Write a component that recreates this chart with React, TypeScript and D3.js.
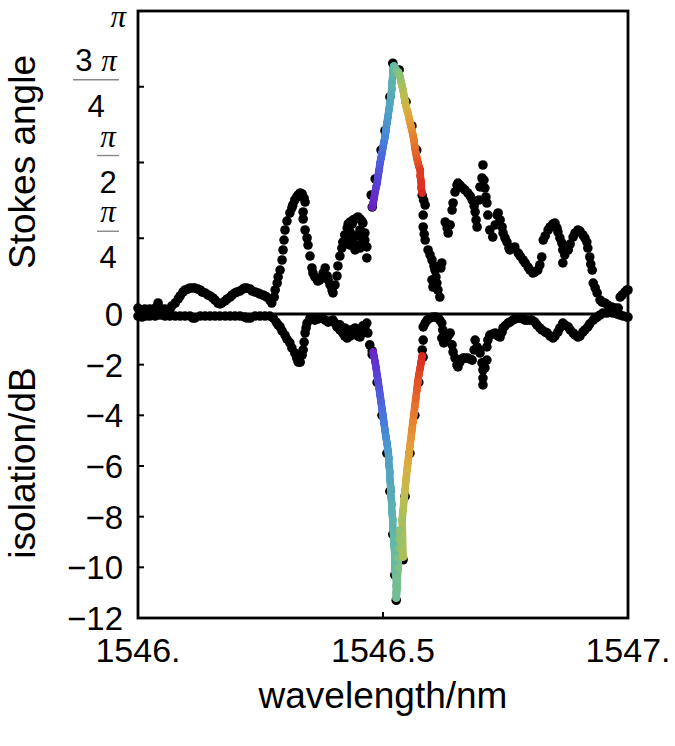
import React from 'react';
import * as d3 from 'd3';

// Stokes angle (rad) vs wavelength (nm): black points
const stokesBlack: [number, number][] = [
  [1546.000,.062],[1546.004,.041],[1546.014,.052],[1546.024,.052],[1546.035,.062],[1546.041,.114],[1546.045,.062],[1546.055,.052],[1546.065,.041],[1546.069,.083],[1546.076,.114],[1546.082,.156],[1546.086,.187],[1546.092,.228],[1546.096,.249],[1546.102,.259],[1546.106,.270],[1546.112,.270],[1546.116,.270],[1546.122,.259],[1546.127,.249],[1546.131,.228],[1546.137,.218],[1546.143,.197],[1546.147,.187],[1546.153,.166],[1546.157,.145],[1546.163,.114],[1546.167,.104],[1546.171,.114],[1546.178,.135],[1546.182,.156],[1546.188,.176],[1546.192,.197],[1546.198,.218],[1546.202,.228],[1546.208,.238],[1546.214,.259],[1546.218,.270],[1546.222,.270],[1546.229,.259],[1546.233,.238],[1546.239,.228],[1546.245,.218],[1546.249,.207],[1546.255,.197],[1546.259,.187],[1546.263,.176],[1546.269,.145],[1546.273,.114],[1546.278,.176],[1546.280,.249],[1546.284,.321],[1546.286,.384],[1546.290,.456],[1546.294,.560],[1546.296,.664],[1546.298,.767],[1546.300,.871],[1546.304,.964],[1546.310,1.047],[1546.314,1.099],[1546.316,1.130],[1546.320,1.182],[1546.324,1.213],[1546.327,1.234],[1546.331,1.255],[1546.335,1.244],[1546.339,1.202],[1546.341,1.161],[1546.337,1.058],[1546.337,.985],[1546.341,.871],[1546.345,.788],[1546.347,.715],[1546.351,.601],[1546.355,.477],[1546.357,.425],[1546.361,.384],[1546.365,.363],[1546.367,.342],[1546.371,.353],[1546.376,.384],[1546.378,.425],[1546.382,.477],[1546.386,.394],[1546.388,.353],[1546.392,.301],[1546.396,.249],[1546.398,.218],[1546.402,.301],[1546.406,.394],[1546.408,.498],[1546.412,.601],[1546.416,.684],[1546.418,.746],[1546.422,.819],[1546.427,.892],[1546.429,.933],[1546.433,.954],[1546.437,.933],[1546.439,.975],[1546.443,.985],[1546.447,.995],[1546.449,1.006],[1546.453,.985],[1546.457,.964],[1546.459,.943],[1546.463,.840],[1546.467,.695],[1546.467,.581],[1546.433,.850],[1546.437,.767],[1546.443,.809],[1546.447,.715],[1546.453,.871],[1546.457,.788],[1546.461,.736],[1546.429,.788],[1546.433,.715],[1546.443,.664],[1546.453,.684],[1546.463,.767],[1546.427,.736],[1546.478,1.109],
  [1546.476,1.234],[1546.484,1.400],[1546.496,1.700],[1546.504,1.900],[1546.514,2.250],[1546.520,2.600],[1546.533,2.530],[1546.547,2.200],[1546.559,1.950],[1546.569,1.700],[1546.580,1.230],[1546.583,1.180],
  [1546.586,1.130],[1546.582,1.026],[1546.582,.902],[1546.584,.829],[1546.586,.767],[1546.592,.664],[1546.596,.612],[1546.600,.560],[1546.604,.498],[1546.606,.456],[1546.608,.384],[1546.610,.321],[1546.612,.249],[1546.616,.176],[1546.620,.529],[1546.618,.477],[1546.602,.280],[1546.600,.353],[1546.627,.954],[1546.631,.892],[1546.633,.840],[1546.637,.923],[1546.641,1.078],[1546.643,1.151],[1546.647,1.265],[1546.651,1.337],[1546.653,1.358],[1546.657,1.337],[1546.663,1.306],[1546.667,1.286],[1546.673,1.255],[1546.678,1.223],[1546.682,1.182],[1546.686,1.120],[1546.688,1.058],[1546.690,.975],[1546.692,.902],[1546.696,1.182],[1546.698,1.317],[1546.702,1.410],[1546.704,1.545],[1546.706,1.389],[1546.708,1.306],[1546.710,1.213],[1546.712,1.151],[1546.714,1.026],[1546.718,.871],[1546.724,.798],[1546.729,.923],[1546.733,1.026],[1546.735,1.047],[1546.739,.975],[1546.743,.902],[1546.745,.840],[1546.749,.788],[1546.753,.746],[1546.757,.684],[1546.759,.664],[1546.765,.684],[1546.769,.695],[1546.776,.632],[1546.780,.601],[1546.786,.560],[1546.790,.529],[1546.796,.487],[1546.800,.456],[1546.806,.425],[1546.810,.435],[1546.816,.456],[1546.820,.508],[1546.824,.591],[1546.827,.767],[1546.831,.809],[1546.837,.871],[1546.841,.902],[1546.847,.933],[1546.851,.943],[1546.855,.892],[1546.857,.850],[1546.861,.788],[1546.865,.736],[1546.867,.529],[1546.867,.664],[1546.871,.612],[1546.878,.664],[1546.882,.725],[1546.888,.798],[1546.892,.840],[1546.898,.871],[1546.902,.860],[1546.908,.819],[1546.912,.788],[1546.916,.746],[1546.918,.684],[1546.922,.591],[1546.924,.518],[1546.927,.456],[1546.929,.321],[1546.933,.270],[1546.937,.218],[1546.943,.145],[1546.947,.124],[1546.953,.114],[1546.959,.093],[1546.967,.073],[1546.973,.062],[1546.980,.062],[1546.984,.176],[1546.988,.197],[1546.994,.228],[1546.998,.249],[1547.000,.249],
];

// Stokes angle, highlighted resonance points (colored by wavelength)
const stokesColor: [number, number][] = [
  [1546.478,1.109],[1546.480,1.151],[1546.482,1.203],[1546.484,1.265],[1546.486,1.317],[1546.488,1.358],[1546.490,1.431],[1546.492,1.493],[1546.494,1.566],[1546.496,1.617],[1546.498,1.669],[1546.500,1.731],[1546.502,1.783],[1546.504,1.835],[1546.506,1.908],[1546.508,1.980],[1546.510,2.043],[1546.512,2.115],[1546.514,2.188],[1546.516,2.260],[1546.518,2.333],[1546.518,2.395],[1546.520,2.468],[1546.520,2.530],[1546.522,2.571],[1546.524,2.551],[1546.527,2.530],[1546.529,2.499],[1546.531,2.509],[1546.533,2.488],[1546.535,2.457],[1546.537,2.405],[1546.539,2.364],[1546.541,2.322],[1546.543,2.260],[1546.545,2.208],[1546.547,2.157],[1546.549,2.115],[1546.551,2.084],[1546.553,2.032],[1546.555,1.991],[1546.557,1.949],[1546.559,1.908],[1546.561,1.856],[1546.563,1.804],[1546.565,1.721],[1546.567,1.669],[1546.569,1.617],[1546.571,1.576],[1546.573,1.534],[1546.576,1.493],[1546.576,1.431],[1546.578,1.369],[1546.578,1.306],[1546.580,1.255],
];

// Isolation (dB) vs wavelength (nm): black points
const isoBlack: [number, number][] = [
  [1546.000,-.08],[1546.008,-.12],[1546.016,-.08],[1546.024,-.08],[1546.035,-.08],[1546.045,-.04],[1546.055,-.08],[1546.065,-.08],[1546.076,-.08],[1546.086,-.08],[1546.096,-.08],[1546.106,-.08],[1546.112,-.16],[1546.116,-.16],[1546.127,-.08],[1546.137,-.08],[1546.147,-.08],[1546.157,-.08],[1546.167,-.08],[1546.178,-.08],[1546.188,-.08],[1546.198,-.08],[1546.208,-.08],[1546.218,-.12],[1546.222,-.16],[1546.229,-.16],[1546.239,-.08],[1546.249,-.08],[1546.259,-.08],[1546.269,-.08],[1546.276,-.16],[1546.282,-.32],[1546.286,-.43],[1546.290,-.51],[1546.294,-.67],[1546.300,-.83],[1546.304,-.99],[1546.310,-1.14],[1546.314,-1.34],[1546.320,-1.54],[1546.324,-1.74],[1546.327,-1.90],[1546.331,-1.90],[1546.335,-1.62],[1546.337,-1.42],[1546.339,-1.11],[1546.341,-.75],[1546.343,-.55],[1546.345,-.36],[1546.351,-.16],[1546.355,-.20],[1546.361,-.24],[1546.367,-.20],[1546.371,-.16],[1546.376,-.16],[1546.382,-.24],[1546.388,-.32],[1546.392,-.28],[1546.398,-.24],[1546.402,-.36],[1546.406,-.51],[1546.412,-.63],[1546.418,-.75],[1546.422,-.87],[1546.427,-.95],[1546.433,-.87],[1546.439,-.75],[1546.443,-.79],[1546.449,-.87],[1546.453,-.91],[1546.457,-.75],[1546.463,-.55],[1546.467,-.36],[1546.469,-.75],[1546.473,-1.22],[1546.478,-1.46],[1546.412,-.43],[1546.422,-.55],[1546.433,-.63],[1546.443,-.55],[1546.453,-.63],[1546.459,-.47],
  [1546.478,-1.60],[1546.488,-2.70],[1546.498,-4.00],[1546.508,-5.50],[1546.514,-7.00],[1546.520,-8.70],[1546.524,-10.30],[1546.527,-11.30],[1546.541,-9.70],[1546.545,-7.20],[1546.555,-5.50],[1546.565,-4.00],[1546.573,-2.70],[1546.582,-1.70],
  [1546.580,-1.42],[1546.582,-1.03],[1546.582,-.51],[1546.586,-.36],[1546.590,-.24],[1546.596,-.16],[1546.602,-.12],[1546.608,-.12],[1546.612,-.16],[1546.616,-.24],[1546.620,-.36],[1546.622,-.63],[1546.620,-.95],[1546.624,-1.14],[1546.629,-1.03],[1546.633,-.87],[1546.637,-.75],[1546.641,-1.22],[1546.643,-1.50],[1546.647,-1.74],[1546.651,-2.01],[1546.653,-2.09],[1546.657,-1.90],[1546.663,-1.74],[1546.667,-1.74],[1546.673,-1.74],[1546.678,-1.78],[1546.682,-1.82],[1546.686,-1.42],[1546.688,-1.03],[1546.692,-1.30],[1546.696,-1.42],[1546.698,-1.54],[1546.702,-1.93],[1546.704,-2.21],[1546.704,-2.53],[1546.704,-2.80],[1546.708,-2.13],[1546.712,-1.82],[1546.712,-1.30],[1546.714,-1.03],[1546.718,-.83],[1546.724,-.79],[1546.729,-.75],[1546.735,-.87],[1546.739,-.91],[1546.743,-.71],[1546.745,-.55],[1546.749,-.47],[1546.755,-.36],[1546.759,-.32],[1546.765,-.24],[1546.769,-.20],[1546.776,-.16],[1546.780,-.16],[1546.786,-.20],[1546.790,-.24],[1546.794,-.24],[1546.800,-.24],[1546.804,-.24],[1546.810,-.32],[1546.814,-.43],[1546.820,-.55],[1546.824,-.63],[1546.831,-.71],[1546.835,-.75],[1546.841,-.87],[1546.847,-.95],[1546.851,-.87],[1546.857,-.71],[1546.861,-.55],[1546.867,-.36],[1546.871,-.43],[1546.878,-.51],[1546.882,-.63],[1546.888,-.75],[1546.892,-.83],[1546.898,-.91],[1546.902,-.87],[1546.908,-.71],[1546.912,-.63],[1546.918,-.51],[1546.922,-.39],[1546.929,-.24],[1546.933,-.16],[1546.937,-.12],[1546.943,-.04],[1546.949,.04],[1546.957,.04],[1546.963,.08],[1546.969,.04],[1546.978,0],[1546.984,-.04],[1546.990,-.08],[1546.998,-.12],[1547.000,-.12],
];

// Isolation, highlighted resonance points (colored by wavelength)
const isoColor: [number, number][] = [
  [1546.480,-1.50],[1546.482,-1.70],[1546.484,-1.90],[1546.486,-2.13],[1546.488,-2.41],[1546.490,-2.65],[1546.492,-2.92],[1546.494,-3.20],[1546.496,-3.47],[1546.498,-3.75],[1546.500,-4.03],[1546.502,-4.30],[1546.504,-4.58],[1546.506,-4.86],[1546.508,-5.09],[1546.510,-5.37],[1546.512,-5.69],[1546.512,-5.96],[1546.514,-6.24],[1546.514,-6.55],[1546.516,-6.87],[1546.516,-7.19],[1546.518,-7.50],[1546.518,-7.82],[1546.520,-8.13],[1546.520,-8.45],[1546.522,-8.80],[1546.522,-9.12],[1546.524,-9.44],[1546.524,-9.79],[1546.524,-10.11],[1546.527,-10.42],[1546.527,-10.74],[1546.527,-11.01],[1546.527,-11.21],
  [1546.529,-10.82],[1546.529,-10.42],[1546.531,-10.03],[1546.531,-9.63],[1546.533,-9.24],[1546.533,-8.84],[1546.535,-8.53],[1546.537,-8.92],[1546.539,-9.32],[1546.541,-9.59],[1546.539,-8.13],[1546.541,-7.74],[1546.543,-7.34],[1546.545,-6.95],[1546.547,-6.55],[1546.549,-6.16],[1546.551,-5.84],[1546.553,-5.53],[1546.555,-5.21],[1546.557,-4.90],[1546.559,-4.58],[1546.561,-4.26],[1546.563,-3.95],[1546.565,-3.63],[1546.567,-3.32],[1546.569,-3.00],[1546.571,-2.68],[1546.573,-2.41],[1546.576,-2.13],[1546.578,-1.90],[1546.580,-1.66],
];

const xTicks = [1546, 1546.5, 1547];
const xTickLabels = ['1546.', '1546.5', '1547.'];
const isoTicks = [0, -2, -4, -6, -8, -10, -12];
const stokesFracs = [
  { v: Math.PI / 4, num: 'π', numPre: '', den: '4' },
  { v: Math.PI / 2, num: 'π', numPre: '', den: '2' },
  { v: (3 * Math.PI) / 4, num: 'π', numPre: '3 ', den: '4' },
];
const rainbowStops = ['#6a1fc0', '#5a3fd8', '#4470e0', '#4a98d0', '#5cb4b0', '#72c094', '#a8c258', '#dcb440', '#e88c30', '#e65a26', '#d82820'];
const colorDomain: [number, number] = [1546.478, 1546.580];

const FONT = "'Liberation Sans', Arial, Helvetica, sans-serif";
const SERIF = "'Liberation Serif', 'Times New Roman', serif";

export default function App() {
  const W = 675, H = 746;
  const L = 138, R = 628, T = 11, B = 618, Z = 314;
  const x = d3.scaleLinear().domain([1546, 1547]).range([L, R]);
  const yS = d3.scaleLinear().domain([0, Math.PI]).range([Z, T]);
  const yI = d3.scaleLinear().domain([-12, 0]).range([B, Z]);
  const color = d3.scaleSequential(d3.interpolateRgbBasis(rainbowStops)).domain(colorDomain);
  const fsTick = 33;
  const fsFrac = 31;
  const fsTitle = 37;
  const lblX = 123;
  const rBlack = 4.8;
  const rColor = 3.8;

  const segs = (data: [number, number][], y: (v: number) => number, key: string) =>
    data.slice(1).map((d, i) => {
      const p = data[i];
      return (
        <line key={key + i} x1={x(p[0])} y1={y(p[1])} x2={x(d[0])} y2={y(d[1])}
          stroke={color((p[0] + d[0]) / 2)} strokeWidth={rColor * 2} strokeLinecap="round" />
      );
    });

  return (
    <svg width={W} height={H} style={{ position: 'absolute', left: 0, top: 0, background: '#fff' }} fontFamily={FONT}>
      <rect x={0} y={0} width={W} height={H} fill="#fff" />
      {/* data */}
      <g>
        {stokesBlack.map((d, i) => (
          <circle key={'sb' + i} cx={x(d[0])} cy={yS(d[1])} r={rBlack} fill="#000" />
        ))}
        {isoBlack.map((d, i) => (
          <circle key={'ib' + i} cx={x(d[0])} cy={yI(d[1])} r={rBlack} fill="#000" />
        ))}
        {segs(stokesColor, yS, 'ss')}
        {segs(isoColor, yI, 'is')}
        {stokesColor.map((d, i) => (
          <circle key={'sc' + i} cx={x(d[0])} cy={yS(d[1])} r={rColor} fill={color(d[0])} />
        ))}
        {isoColor.map((d, i) => (
          <circle key={'ic' + i} cx={x(d[0])} cy={yI(d[1])} r={rColor} fill={color(d[0])} />
        ))}
      </g>
      {/* zero line */}
      <line x1={L} x2={R} y1={Z} y2={Z} stroke="#000" strokeWidth={3} />
      {/* frame */}
      <rect x={L} y={T} width={R - L} height={B - T} fill="none" stroke="#000" strokeWidth={2.8} />
      {/* left ticks */}
      {stokesFracs.map((f, i) => (
        <line key={'st' + i} x1={L} x2={L + 6} y1={yS(f.v)} y2={yS(f.v)} stroke="#000" strokeWidth={2} />
      ))}
      {isoTicks.filter(t => t !== 0 && t !== -12).map((t) => (
        <line key={'it' + t} x1={L} x2={L + 6} y1={yI(t)} y2={yI(t)} stroke="#000" strokeWidth={2} />
      ))}
      {/* bottom ticks */}
      {xTicks.filter(t => t !== 1546 && t !== 1547).map((t) => (
        <line key={'xt' + t} x1={x(t)} x2={x(t)} y1={B} y2={B - 6} stroke="#000" strokeWidth={2} />
      ))}
      {/* x tick labels */}
      {xTicks.map((t, i) => (
        <text key={'xl' + t} x={x(t)} y={B + 44} textAnchor="middle" fontSize={fsTick + 1} fill="#000">
          {xTickLabels[i]}
        </text>
      ))}
      {/* iso tick labels */}
      {isoTicks.map((t) => (
        <text key={'il' + t} x={lblX} y={yI(t) + 12} textAnchor="end" fontSize={fsTick} fill="#000">
          {t < 0 ? '\u2212' + Math.abs(t) : String(t)}
        </text>
      ))}
      {/* stokes fraction labels */}
      {stokesFracs.map((f, i) => {
        const bar = yS(f.v) - 7;
        const cx = f.numPre ? 96 : 108;
        const half = f.numPre ? 23 : 11;
        return (
          <g key={'sf' + i}>
            <text x={cx} y={bar - 9} textAnchor="middle" fontSize={fsFrac} fill="#000">
              {f.numPre}
              <tspan fontFamily={SERIF} fontStyle="italic">{f.num}</tspan>
            </text>
            <line x1={cx - half} x2={cx + half} y1={bar} y2={bar} stroke="#888" strokeWidth={1.4} />
            <text x={cx} y={bar + 37} textAnchor="middle" fontSize={fsFrac} fill="#000">{f.den}</text>
          </g>
        );
      })}
      <text x={lblX + 3} y={27} textAnchor="end" fontSize={fsFrac} fontFamily={SERIF} fontStyle="italic" fill="#000">π</text>
      {/* axis titles */}
      <text transform={`translate(35,162) rotate(-90)`} textAnchor="middle" fontSize={fsTitle} fill="#000">Stokes angle</text>
      <text transform={`translate(35,463) rotate(-90)`} textAnchor="middle" fontSize={fsTitle} fill="#000">isolation/dB</text>
      <text x={(L + R) / 2} y={708} textAnchor="middle" fontSize={fsTitle} fill="#000">wavelength/nm</text>
    </svg>
  );
}
